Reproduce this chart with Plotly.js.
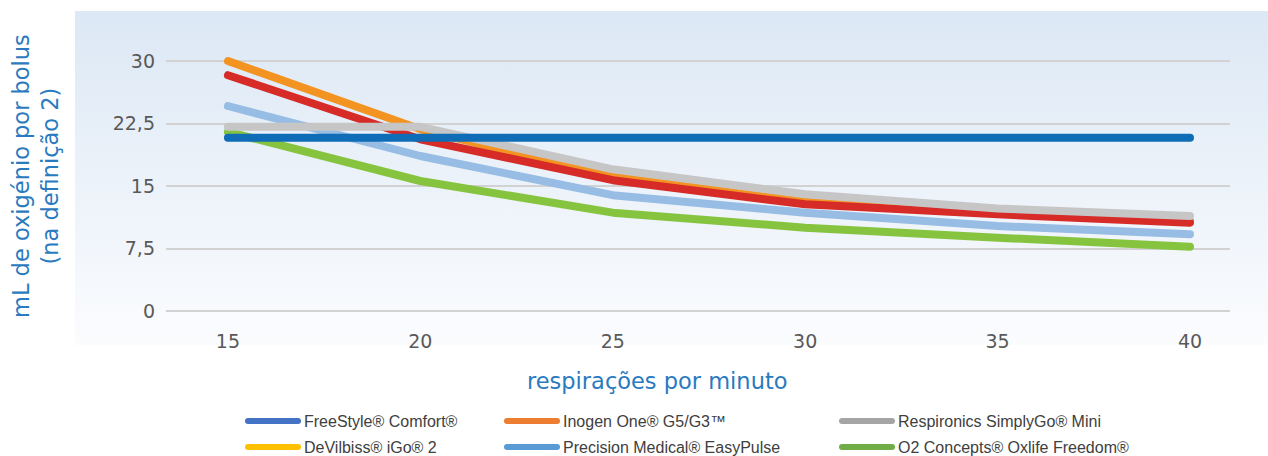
<!DOCTYPE html>
<html>
<head>
<meta charset="utf-8">
<script src="https://cdn.plot.ly/plotly-3.0.1.min.js"></script>
<style>
  html, body { margin: 0; padding: 0; background: #ffffff; }
  #wrap { position: relative; width: 1268px; height: 456px; overflow: hidden; }
  #panel { position: absolute; left: 75px; top: 11px; width: 1193px; height: 334px;
           background: linear-gradient(to bottom, #dce8f5 0%, #eaf1f9 45%, #fbfcfe 100%); }
  #chart { position: absolute; left: 0; top: 0; width: 1268px; height: 456px; }
  .js-line { stroke-linecap: round; stroke-linejoin: round; }
  .shapelayer path { stroke-linecap: round; }
</style>
</head>
<body>
<div id="wrap">
  <div id="panel"></div>
  <div id="chart"></div>
</div>
<script>
// ---- data ----
const breaths = [15, 20, 25, 30, 35, 40];
const freeStyle   = [20.8, 20.8, 20.8, 20.8, 20.8, 20.8];
const inogen      = [30.0, 21.8, 16.1, 13.1, 11.7, 10.8];
const respironics = [22.1, 22.1, 17.0, 14.0, 12.3, 11.4];
const devilbiss   = [28.3, 20.6, 15.7, 12.8, 11.6, 10.6];
const precision   = [24.6, 18.6, 13.9, 11.8, 10.2, 9.2];
const oxlife      = [21.5, 15.6, 11.8, 10.0, 8.8, 7.7];

const yTickVals = [0, 7.5, 15, 22.5, 30];
const yTickText = ['0', '7,5', '15', '22,5', '30'];
const xTickVals = [15, 20, 25, 30, 35, 40];

const legendNames = ['FreeStyle® Comfort®', 'Inogen One® G5/G3™', 'Respironics SimplyGo® Mini',
                     'DeVilbiss® iGo® 2', 'Precision Medical® EasyPulse', 'O2 Concepts® Oxlife Freedom®'];
const legendColors = ['#4472c4', '#ed7d31', '#a5a5a5', '#ffc000', '#5b9bd5', '#70ad47'];

// ---- traces (drawing order: bottom to top) ----
function line(y, color, name) {
  return { x: breaths, y: y, type: 'scatter', mode: 'lines', name: name,
           line: { color: color, width: 8 }, showlegend: false, hoverinfo: 'skip' };
}
const traces = [
  line(oxlife, '#86c440', legendNames[5]),
  line(precision, '#97bde4', legendNames[4]),
  line(inogen, '#f39321', legendNames[1]),
  line(devilbiss, '#d62b27', legendNames[3]),
  line(respironics, '#c6c6c6', legendNames[2]),
  line(freeStyle, '#0f6cb6', legendNames[0])
];

// ---- layout ----
const L = 166, R = 1230, T = 40, B = 320;
const px2x = p => (p - L) / (R - L);
const px2y = p => (B - p) / (B - T);

const shapes = [];
const annotations = [];
const colX = [248, 507, 842];
const rowY = [421, 447];
legendNames.forEach((n, i) => {
  const c = i % 3, r = Math.floor(i / 3);
  shapes.push({ type: 'line', xref: 'paper', yref: 'paper',
    x0: px2x(colX[c]), x1: px2x(colX[c] + 50), y0: px2y(rowY[r]), y1: px2y(rowY[r]),
    line: { color: legendColors[i], width: 6 } });
  annotations.push({ xref: 'paper', yref: 'paper', x: px2x(colX[c] + 54), y: px2y(rowY[r]),
    xanchor: 'left', yanchor: 'middle', showarrow: false, text: n,
    font: { family: 'Liberation Sans Narrow, Liberation Sans, Arial', size: 16, color: '#404040' } });
});

annotations.push({ xref: 'paper', yref: 'paper', x: px2x(35), y: px2y(176),
  xanchor: 'center', yanchor: 'middle', showarrow: false, textangle: -90,
  text: 'mL de oxigénio por bolus<br>(na definição 2)',
  font: { family: 'DejaVu Sans, Verdana', size: 22.5, color: '#2a7abf' } });
annotations.push({ xref: 'paper', yref: 'paper', x: px2x(657), y: px2y(381),
  xanchor: 'center', yanchor: 'middle', showarrow: false,
  text: 'respirações por minuto',
  font: { family: 'DejaVu Sans, Verdana', size: 22.5, color: '#2a7abf' } });

const layout = {
  width: 1268, height: 456,
  margin: { l: L, r: 1268 - R, t: T, b: 456 - B, pad: 0 },
  paper_bgcolor: 'rgba(0,0,0,0)',
  plot_bgcolor: 'rgba(0,0,0,0)',
  showlegend: false,
  xaxis: {
    range: [13.39, 41.04], tickvals: xTickVals, ticks: '', showgrid: false,
    zeroline: false, showline: false, ticklabelstandoff: 8,
    tickfont: { family: 'DejaVu Sans, Verdana', size: 19, color: '#595959' }
  },
  yaxis: {
    range: [-1.08, 32.52], tickvals: yTickVals, ticktext: yTickText, ticks: '',
    showgrid: true, gridcolor: '#d2d2d2', gridwidth: 2, zeroline: false, showline: false,
    ticklabelstandoff: 10,
    tickfont: { family: 'DejaVu Sans, Verdana', size: 19, color: '#595959' }
  },
  shapes: shapes,
  annotations: annotations
};

Plotly.newPlot('chart', traces, layout, { displayModeBar: false, staticPlot: true });
</script>
</body>
</html>
